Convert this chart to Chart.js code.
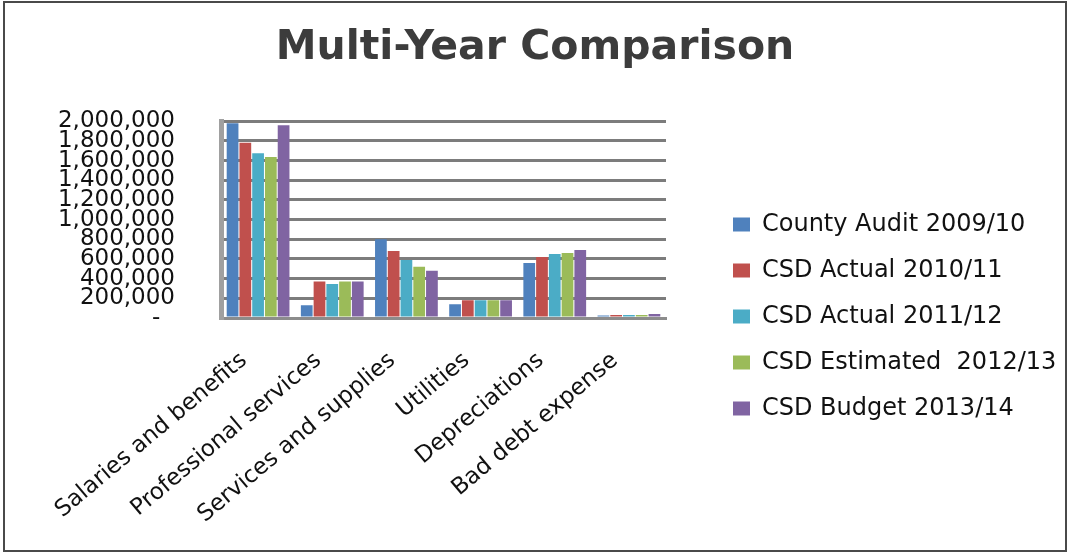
<!DOCTYPE html>
<html>
<head>
<meta charset="utf-8">
<script src="https://cdn.jsdelivr.net/npm/chart.js@4.4.1/dist/chart.umd.min.js"></script>
<style>
  html, body { margin: 0; padding: 0; background: #fff; }
  #frame {
    position: absolute; left: 3px; top: 1px;
    width: 1060px; height: 547px;
    border: 2px solid #4a4a4a;
  }
  #chart { display: block; }
</style>
</head>
<body>
<div id="frame"><canvas id="chart" width="1060" height="547"></canvas></div>
<script>
// categories and series
const categories = ["Salaries and benefits", "Professional services", "Services and supplies",
                    "Utilities", "Depreciations", "Bad debt expense"];
const seriesNames = ["County Audit 2009/10", "CSD Actual 2010/11", "CSD Actual 2011/12",
                     "CSD Estimated  2012/13", "CSD Budget 2013/14"];
const countyAudit0910 = [1980000, 130000, 800000, 140000, 560000, 25000];
const csdActual1011   = [1780000, 370000, 680000, 180000, 620000, 30000];
const csdActual1112   = [1675000, 345000, 590000, 180000, 650000, 30000];
const csdEstimated1213 = [1635000, 370000, 520000, 180000, 660000, 30000];
const csdBudget1314   = [1960000, 370000, 480000, 180000, 690000, 40000];
const yTicks = [0, 200000, 400000, 600000, 800000, 1000000, 1200000, 1400000, 1600000, 1800000, 2000000];

const colors = ["#4F81BD", "#C0504D", "#4BACC6", "#9BBB59", "#8064A2"];
const seriesData = [countyAudit0910, csdActual1011, csdActual1112, csdEstimated1213, csdBudget1314];

const FONT = "'DejaVu Sans', sans-serif";

// legend sits a bit away from the plot and lower, like the original
const legendPlace = {
    id: "legendPlace",
    beforeInit(chart) {
        const lg = chart.legend;
        const fit = lg.fit;
        lg.fit = function () {
            fit.call(this);
            this.width = 399;
        };
    },
    afterLayout(chart) {
        const lg = chart.legend;
        lg.left += 45; lg.right += 45;
        lg.top += 40; lg.bottom += 40;
    }
};

const ctx = document.getElementById("chart").getContext("2d");
new Chart(ctx, {
    type: "bar",
    data: {
        labels: categories,
        datasets: seriesNames.map((name, i) => ({
            label: name,
            data: seriesData[i],
            backgroundColor: colors[i],
            borderColor: colors[i],
            borderWidth: 0,
            categoryPercentage: 0.86,
            barPercentage: 0.92
        }))
    },
    options: {
        responsive: false,
        animation: false,
        layout: { padding: 0 },
        plugins: {
            title: {
                display: true,
                text: "Multi-Year Comparison",
                color: "#3c3c3c",
                font: { family: FONT, size: 41, weight: "bold", lineHeight: 1.2 },
                padding: { top: 21, bottom: 48 }
            },
            legend: {
                position: "right",
                align: "center",
                labels: {
                    color: "#111",
                    font: { family: FONT, size: 24 },
                    boxWidth: 17,
                    boxHeight: 14,
                    padding: 22,
                    textAlign: "left"
                }
            },
            tooltip: { enabled: false }
        },
        scales: {
            x: {
                grid: { display: false, drawTicks: false },
                border: { display: true, color: "#8c8c8c", width: 3 },
                ticks: {
                    color: "#111",
                    font: { family: FONT, size: 23 },
                    minRotation: 40,
                    maxRotation: 40,
                    autoSkip: false,
                    padding: 29,
                    labelOffset: -14
                },
                afterFit: s => { s.height = 232; }
            },
            y: {
                min: 0,
                max: 2000000,
                afterBuildTicks: s => { s.ticks = yTicks.map(v => ({ value: v })); },
                grid: { color: "#7c7c7c", lineWidth: 3, drawTicks: false },
                border: { display: true, color: "#a0a0a0", width: 5 },
                ticks: {
                    color: "#111",
                    font: { family: FONT, size: 23, lineHeight: 1 },
                    autoSkip: false,
                    padding: 46,
                    callback: v => v === 0 ? "-  " : v.toLocaleString("en-US")
                },
                afterFit: s => { s.width = 216; }
            }
        }
    },
    plugins: [legendPlace]
});
</script>
</body>
</html>
